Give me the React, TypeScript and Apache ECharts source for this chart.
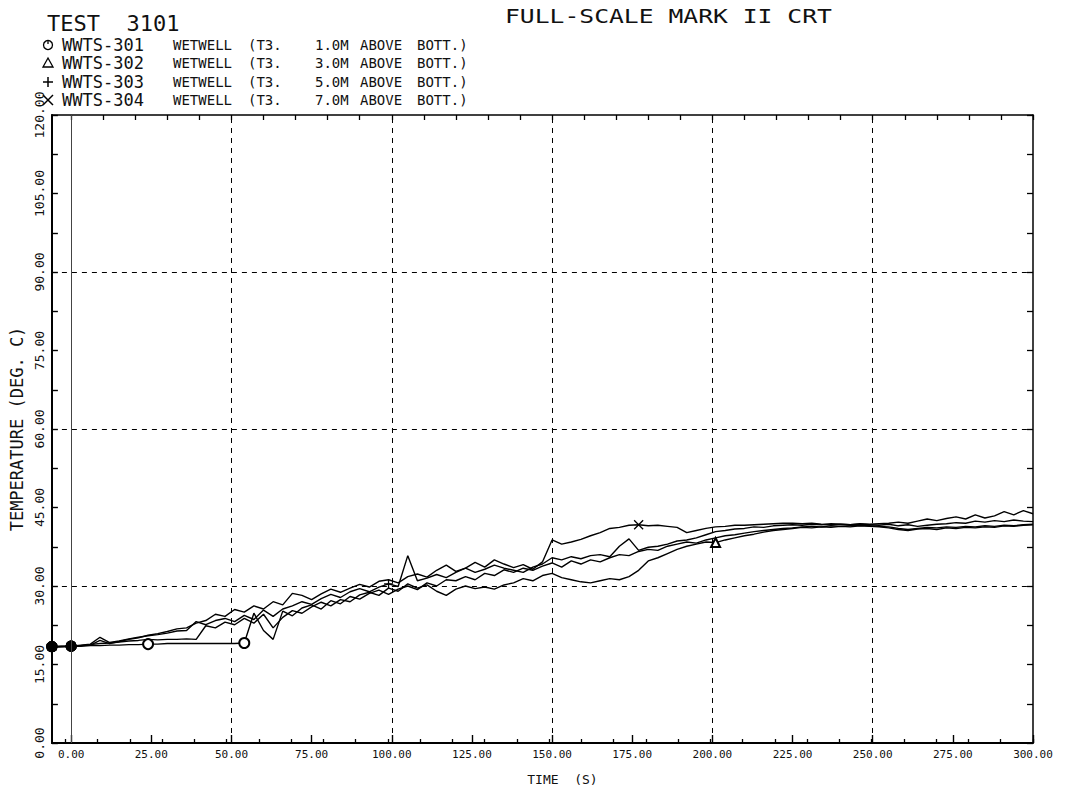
import React, { useEffect, useRef } from "react";
import * as echarts from "echarts";

// ---- data ----
const TIMES = [
  -6, 0, 3, 6, 9, 12, 15, 18, 21, 24,
  27, 30, 33, 36, 39, 42, 45, 48, 51, 54,
  57, 60, 63, 66, 69, 72, 75, 78, 81, 84,
  87, 90, 93, 96, 99, 102, 105, 108, 111, 114,
  117, 120, 123, 126, 129, 132, 135, 138, 141, 144,
  147, 150, 153, 156, 159, 162, 165, 168, 171, 174,
  177, 180, 183, 186, 189, 192, 195, 198, 201, 204,
  207, 210, 213, 216, 219, 222, 225, 228, 231, 234,
  237, 240, 243, 246, 249, 252, 255, 258, 261, 264,
  267, 270, 273, 276, 279, 282, 285, 288, 291, 294,
  297, 300,
];

const WWTS301 = [
  18.4, 18.5, 18.5, 18.6, 18.6, 18.7, 18.7, 18.8, 18.8, 18.9,
  18.9, 19.0, 19.0, 19.0, 19.0, 19.0, 19.0, 19.0, 19.0, 19.1,
  24.8, 21.5, 19.8, 25.2, 24.3, 25.8, 26.4, 25.6, 27.2, 26.6,
  28.0, 27.5, 28.6, 29.2, 28.4, 29.4, 30.0, 29.3, 30.6, 30.0,
  31.2, 31.0, 31.8, 31.2, 32.4, 32.0, 33.1, 32.6, 33.4, 33.0,
  33.8, 34.4, 33.6, 34.8, 34.2, 35.0, 34.6, 35.4, 36.0, 35.8,
  36.6, 37.0, 36.8, 37.6, 38.0, 38.4, 38.2, 38.8, 39.2, 39.6,
  39.8, 40.1, 40.4, 40.6, 40.8, 41.0, 41.1, 41.3, 41.4, 41.3,
  41.5, 41.4, 41.5, 41.6, 41.5, 41.4, 41.3, 41.0, 40.8, 41.0,
  41.2, 41.1, 41.3, 41.2, 41.4, 41.3, 41.5, 41.4, 41.6, 41.5,
  41.7, 41.8,
];

const WWTS302 = [
  18.4, 18.5, 18.6, 18.8, 19.0, 19.1, 19.3, 19.5, 19.6, 19.8,
  19.7, 19.8, 19.8, 19.9, 19.8, 22.4, 22.0, 23.1, 22.6, 23.8,
  22.9, 24.6, 22.0, 24.0, 25.3, 24.8, 26.0, 26.9, 26.2, 27.4,
  27.0, 28.3, 28.8, 28.2, 29.6, 29.0, 30.4, 29.6, 30.2, 29.0,
  28.2, 29.4, 30.0, 29.5, 29.8, 29.4, 30.2, 30.6, 31.4, 31.0,
  32.0, 32.4, 31.6, 31.2, 30.8, 30.6, 31.0, 31.4, 31.2, 31.8,
  33.0, 34.8, 35.4, 36.2, 37.0, 37.6, 38.0, 38.4, 38.3, 38.8,
  39.2, 39.6, 39.9, 40.3, 40.6, 40.8, 41.0, 41.2, 41.1, 41.3,
  41.2, 41.4, 41.3, 41.5, 41.4, 41.3, 41.1, 40.8, 40.6, 40.9,
  41.0, 40.8, 41.1, 41.0, 41.2, 41.1, 41.3, 41.2, 41.5, 41.4,
  41.6, 41.7,
];

const WWTS303 = [
  18.4, 18.5, 18.7, 18.9, 20.2, 19.2, 19.5, 19.9, 20.2, 20.5,
  20.7, 21.0, 21.4, 21.5, 23.2, 22.6, 23.4, 23.8, 23.2, 24.4,
  23.6, 25.4, 24.2, 25.6, 26.2, 27.0, 26.5, 27.6, 28.4, 27.8,
  28.9, 29.5, 28.9, 29.8, 30.4, 29.9, 35.8, 31.0, 31.5, 32.2,
  31.6, 32.6, 33.4, 32.6, 33.2, 34.0, 33.4, 33.0, 32.6, 33.6,
  34.2, 35.4, 35.0, 35.6, 35.2, 35.8, 36.0, 35.6, 37.6, 39.0,
  36.8, 37.4, 37.6, 38.0, 38.6, 38.8, 39.2, 39.8, 40.4, 40.6,
  40.9, 41.0, 41.3, 41.2, 41.5, 41.6, 41.7, 41.6, 41.8, 41.7,
  41.9, 41.8, 41.7, 41.9, 41.8, 41.9, 42.0, 42.2, 42.0, 42.4,
  42.8, 42.5, 42.9, 43.2, 42.8, 43.6, 43.0, 43.4, 44.2, 43.6,
  44.4, 43.8,
];

const WWTS304 = [
  18.4, 18.5, 18.6, 18.7, 19.6, 19.0, 19.4, 19.8, 20.1, 20.6,
  20.9, 21.3, 21.8, 22.0, 22.9, 23.4, 24.6, 24.2, 25.5, 25.0,
  26.2, 25.6, 27.0, 26.4, 28.6, 28.2, 27.4, 28.5, 29.4, 28.8,
  29.6, 30.3, 29.8, 30.9, 31.2, 30.6, 31.8, 32.3, 31.7, 33.0,
  34.0, 32.8, 33.4, 34.5, 33.6, 35.0, 34.2, 33.5, 34.1, 33.2,
  34.6, 38.8, 38.0, 38.4, 38.9, 39.6, 40.2, 41.0, 41.2, 41.6,
  41.7, 41.5, 41.6, 41.4, 41.2, 40.2, 40.6, 41.0, 41.3, 41.4,
  41.6, 41.6, 41.7, 41.8, 41.9, 42.0, 42.0, 41.9, 42.0, 41.8,
  41.7, 41.8, 41.7, 41.8, 41.7, 41.6, 41.8, 41.5, 41.7, 41.4,
  41.6, 41.8, 41.9, 42.1, 42.0, 42.4, 42.2, 42.5, 42.3, 42.6,
  42.4, 42.3,
];

// times at which each curve carries its plotting symbol
const START_DOTS = [-6, 0];
const MARK_301 = [24, 54];
const MARK_302 = [201];
const MARK_303 = [99];
const MARK_304 = [177];

const X_LABELS = [0, 25, 50, 75, 100, 125, 150, 175, 200, 225, 250, 275, 300];
const X_MINOR = [0, 10, 20, 30, 40, 50, 60, 70, 80, 90, 100, 110, 120, 130, 140, 150,
  160, 170, 180, 190, 200, 210, 220, 230, 240, 250, 260, 270, 280, 290, 300];
const GRID_X = [50, 100, 150, 200, 250];
const GRID_Y = [30, 60, 90];

const LEGEND_IDS = ["WWTS-301", "WWTS-302", "WWTS-303", "WWTS-304"];
const LEGEND_LEVELS = ["1.0M", "3.0M", "5.0M", "7.0M"];

const MONO = '"DejaVu Sans Mono", "Liberation Mono", monospace';

const SYM_PLUS = "path://M5,0L5,10M0,5L10,5";
const SYM_CROSS = "path://M0,0L10,10M10,0L0,10";

function buildData(values: number[], marks: number[], symbol: string, size: number) {
  return TIMES.map((t, i) => {
    const v = values[i];
    if (START_DOTS.includes(t)) return { value: [t, v], symbol: "circle", symbolSize: 10 };
    if (marks.includes(t)) return { value: [t, v], symbol, symbolSize: size };
    return [t, v];
  });
}

function lineSeries(name: string, data: any[], extra: any = {}) {
  return {
    name,
    type: "line",
    xAxisIndex: 0,
    yAxisIndex: 0,
    data,
    showSymbol: true,
    symbol: "none",
    lineStyle: { color: "#000", width: 1.4 },
    itemStyle: { color: "#000", borderColor: "#000", borderWidth: 1.3 },
    emphasis: { disabled: true },
    silent: true,
    ...extra,
  };
}

function legendGraphics() {
  const rowsY = [45, 63, 82, 100];
  const sx = 48;
  const out: any[] = [];
  rowsY.forEach((y, i) => {
    if (i === 0) {
      out.push({ type: "circle", shape: { cx: sx, cy: y, r: 4.5 }, style: { fill: "none", stroke: "#000", lineWidth: 1.3 } });
      out.push({ type: "line", shape: { x1: sx, y1: y - 5, x2: sx, y2: y - 1 }, style: { stroke: "#000", lineWidth: 1.3 } });
    } else if (i === 1) {
      out.push({ type: "polygon", shape: { points: [[sx, y - 5], [sx + 5, y + 4], [sx - 5, y + 4]] }, style: { fill: "none", stroke: "#000", lineWidth: 1.3 } });
    } else if (i === 2) {
      out.push({ type: "line", shape: { x1: sx - 5, y1: y, x2: sx + 5, y2: y }, style: { stroke: "#000", lineWidth: 1.5 } });
      out.push({ type: "line", shape: { x1: sx, y1: y - 5, x2: sx, y2: y + 5 }, style: { stroke: "#000", lineWidth: 1.5 } });
    } else {
      out.push({ type: "line", shape: { x1: sx - 5, y1: y - 5, x2: sx + 5, y2: y + 5 }, style: { stroke: "#000", lineWidth: 1.5 } });
      out.push({ type: "line", shape: { x1: sx + 5, y1: y - 5, x2: sx - 5, y2: y + 5 }, style: { stroke: "#000", lineWidth: 1.5 } });
    }
    const txt = (x: number, text: string, size: number) =>
      out.push({
        type: "text",
        x,
        y,
        style: { text, font: `${size}px ${MONO}`, fill: "#111", align: "left", verticalAlign: "middle" },
      });
    txt(62, LEGEND_IDS[i], 17);
    txt(173, "WETWELL", 14);
    txt(248, "(T3.", 14);
    txt(315, LEGEND_LEVELS[i], 14);
    txt(360, "ABOVE", 14);
    txt(417, "BOTT.)", 14);
  });
  return out;
}

export default function App() {
  const ref = useRef<HTMLDivElement>(null);

  useEffect(() => {
    if (!ref.current) return;
    const chart = echarts.init(ref.current, null, { renderer: "svg" });

    const fmt = (v: number) => v.toFixed(2);
    const grids = { left: 46, right: 32, top: 115, bottom: 49 };

    const option: any = {
      animation: false,
      backgroundColor: "#fff",
      grid: [
        { ...grids, containLabel: false },
        { ...grids, containLabel: false },
      ],
      xAxis: [
        {
          type: "value",
          gridIndex: 0,
          position: "bottom",
          min: -6,
          max: 300,
          axisLine: { show: true, onZero: false, lineStyle: { color: "#000", width: 2 } },
          axisTick: { show: true, customValues: X_LABELS, inside: true, length: 8, lineStyle: { color: "#000", width: 1.4 } },
          axisLabel: {
            customValues: X_LABELS,
            formatter: fmt,
            fontFamily: MONO,
            fontSize: 11,
            color: "#111",
            margin: 6,
          },
          splitLine: { show: false },
          name: "TIME  (S)",
          nameLocation: "middle",
          nameGap: 30,
          nameTextStyle: { fontFamily: MONO, fontSize: 13, color: "#111", padding: [0, 0, 0, 40] },
        },
        {
          type: "value",
          gridIndex: 0,
          position: "top",
          min: -6,
          max: 300,
          axisLine: { show: true, onZero: false, lineStyle: { color: "#000", width: 1.5 } },
          axisTick: { show: true, customValues: X_MINOR, inside: true, length: 5, lineStyle: { color: "#000", width: 1.3 } },
          axisLabel: { show: false },
          splitLine: { show: false },
        },
        {
          type: "value",
          gridIndex: 1,
          position: "bottom",
          min: -6,
          max: 300,
          axisLine: { show: false },
          axisTick: { show: true, customValues: X_MINOR, inside: true, length: 4, lineStyle: { color: "#000", width: 1.3 } },
          axisLabel: { show: false },
          splitLine: { show: false },
        },
      ],
      yAxis: [
        {
          type: "value",
          gridIndex: 0,
          position: "left",
          min: 0,
          max: 120,
          interval: 7.5,
          axisLine: { show: true, onZero: false, lineStyle: { color: "#000", width: 2 } },
          axisTick: { show: true, inside: true, length: 6, lineStyle: { color: "#000", width: 1.4 } },
          axisLabel: {
            formatter: (v: number) => (Math.abs(v % 15) < 1e-6 ? fmt(v) : ""),
            rotate: 90,
            fontFamily: MONO,
            fontSize: 13,
            color: "#111",
            margin: 6,
          },
          splitLine: { show: false },
          name: "TEMPERATURE (DEG. C)",
          nameLocation: "middle",
          nameGap: 22,
          nameTextStyle: { fontFamily: MONO, fontSize: 17, color: "#111" },
        },
        {
          type: "value",
          gridIndex: 0,
          position: "right",
          min: 0,
          max: 120,
          interval: 7.5,
          axisLine: { show: true, onZero: false, lineStyle: { color: "#000", width: 1.5 } },
          axisTick: { show: true, inside: true, length: 6, lineStyle: { color: "#000", width: 1.3 } },
          axisLabel: { show: false },
          splitLine: { show: false },
        },
        {
          type: "value",
          gridIndex: 1,
          min: 0,
          max: 120,
          show: false,
        },
      ],
      graphic: [
        {
          type: "text",
          x: 47,
          y: 23,
          style: { text: "TEST  3101", font: `22px ${MONO}`, fill: "#111", align: "left", verticalAlign: "middle" },
        },
        {
          type: "text",
          x: 505,
          y: 17,
          scaleX: 1.3,
          style: { text: "FULL-SCALE MARK II CRT", font: `19px ${MONO}`, fill: "#111", align: "left", verticalAlign: "middle" },
        },
        ...legendGraphics(),
      ],
      series: [
        lineSeries("WWTS-301", buildData(WWTS301, MARK_301, "emptyCircle", 10)),
        lineSeries("WWTS-302", buildData(WWTS302, MARK_302, "emptyTriangle", 9)),
        lineSeries("WWTS-303", buildData(WWTS303, MARK_303, SYM_PLUS, 9)),
        lineSeries("WWTS-304", buildData(WWTS304, MARK_304, SYM_CROSS, 9), {
          markLine: {
            silent: true,
            symbol: ["none", "none"],
            label: { show: false },
            lineStyle: { color: "#000", type: [5, 5], width: 1 },
            emphasis: { disabled: true },
            data: [
              ...GRID_X.map((x) => ({ xAxis: x })),
              ...GRID_Y.map((y) => ({ yAxis: y })),
              { xAxis: 0, lineStyle: { type: "solid", color: "#444", width: 1 } },
            ],
          },
        }),
      ],
    };

    chart.setOption(option);
    return () => chart.dispose();
  }, []);

  return (
    <div
      ref={ref}
      style={{ position: "absolute", left: 0, top: 0, width: 1065, height: 792, background: "#fff" }}
    />
  );
}
